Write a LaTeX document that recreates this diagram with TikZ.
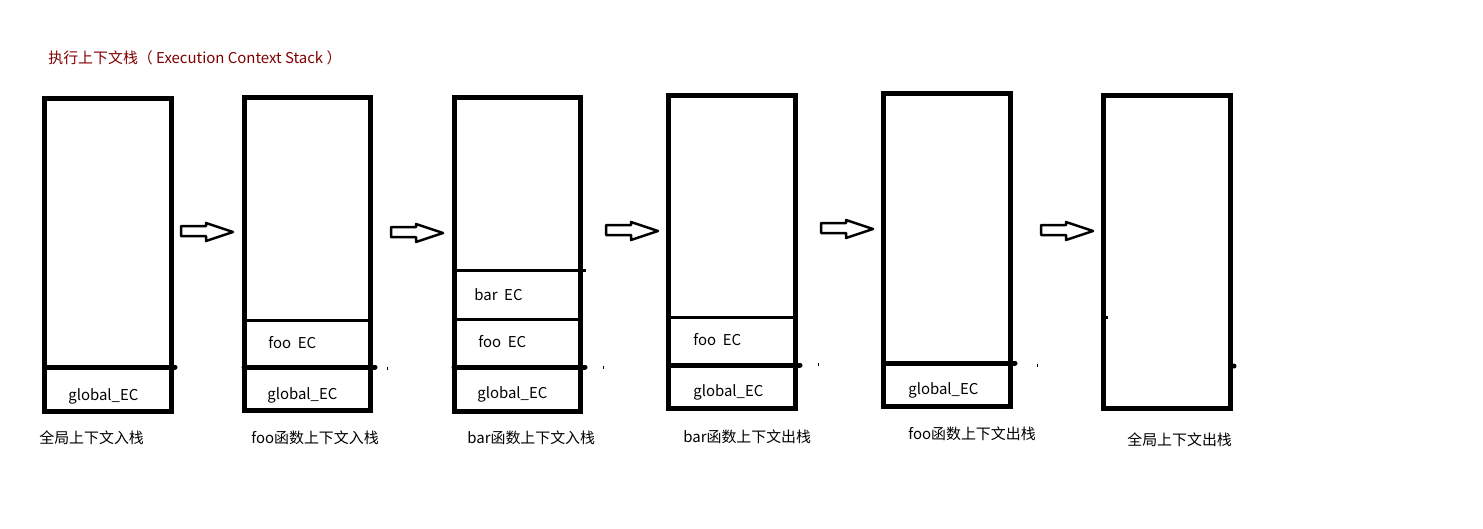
\documentclass[tikz,border=0pt]{standalone}
\usepackage{fontspec}
\setmainfont{Noto Sans CJK SC}
\usetikzlibrary{calc}
\definecolor{titlered}{RGB}{128,0,0}

\begin{document}
\begin{tikzpicture}[x=0.02cm,y=-0.02cm]
    \useasboundingbox (0,0) rectangle (1483,528);
    \tikzset{
      stackline/.style={line width=0.1cm},
      cellline/.style={line width=0.06cm},
      cell/.style={anchor=west,inner sep=0pt,font=\fontsize{8.5}{10}\selectfont},
      pusharrow/.style={line width=0.05cm,line join=round}
    }
    \node[cell,text=titlered] (title) at (48,58) {执行上下文栈（\ Execution Context Stack\ ）};
    % the six stacks
    \foreach \l/\t/\r/\b in {44.5/98.5/171/411.5,244/97.5/370.5/410.5,454/97.5/580/411,668.5/95.5/795.5/408.5,883.5/93.5/1010.5/406.5,1103.5/95.5/1230.5/408.5}
    {
      \draw[stackline] (\l,\t) rectangle (\r,\b);
    }
    % global_EC dividers
    \begin{scope}[stackline,line cap=round]
      \draw (44.5,367) -- (175,367);
      \draw (244,367) -- (375,367);
      \draw (454,367) -- (585,367);
      \draw (668.5,365) -- (800,365);
      \draw (883.5,363) -- (1015,363);
    \end{scope}
    \fill (1234,366) circle (2.5);
    % foo / bar dividers
    \begin{scope}[cellline]
      \draw (244,320) -- (370.5,320);
      \draw (454,270) -- (586,270);
      \draw (454,319) -- (580,319);
      \draw (668.5,317) -- (795.5,317);
      \draw (1103.5,317) -- (1108,317);
    \end{scope}
    % stray marks
    \foreach \x/\y in {387/368,603/367,818/364,1037/365}
    {
      \draw[line width=0.5pt] (\x,\y-1.5) -- (\x,\y+1.5);
    }
    % arrows between the stacks
    \foreach \x/\y in {181/231,391/232,606/230,821/228,1041/230}
    {
      \draw[pusharrow] (\x,\y-5) -- (\x+25,\y-5) -- (\x+25,\y-8) -- (\x+52,\y+1) -- (\x+25,\y+10) -- (\x+25,\y+5) -- (\x,\y+5) -- cycle;
    }
    % cell texts
    \node[cell] (g1) at (68,396) {global\_EC};
    \node[cell] (foo2) at (268,343) {foo\ \ EC};
    \node[cell] (g2) at (267,395) {global\_EC};
    \node[cell] (bar3) at (474,295) {bar\ \ EC};
    \node[cell] (foo3) at (478,342) {foo\ \ EC};
    \node[cell] (g3) at (477,394) {global\_EC};
    \node[cell] (foo4) at (693,340) {foo\ \ EC};
    \node[cell] (g4) at (693,392) {global\_EC};
    \node[cell] (g5) at (908,390) {global\_EC};
    % captions
    \node[cell] (cap1) at (39,438) {全局上下文入栈};
    \node[cell] (cap2) at (251,438) {foo函数上下文入栈};
    \node[cell] (cap3) at (467,438) {bar函数上下文入栈};
    \node[cell] (cap4) at (683,437) {bar函数上下文出栈};
    \node[cell] (cap5) at (908,434) {foo函数上下文出栈};
    \node[cell] (cap6) at (1127,440) {全局上下文出栈};
\end{tikzpicture}
\end{document}
